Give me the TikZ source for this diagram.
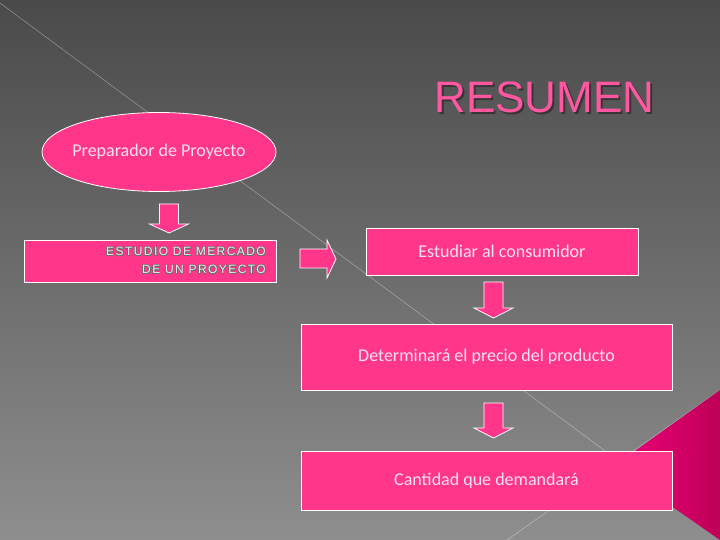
\documentclass[tikz,border=0pt]{standalone}
\usepackage{fontspec}
\setmainfont{Carlito}
\newfontfamily\titlefont{Liberation Sans}
\newfontfamily\capsfont[LetterSpace=12]{Liberation Sans}
\usepackage[copies]{contour}
\contourlength{0.45pt}
\usetikzlibrary{shapes.geometric}
\definecolor{bgtop}{RGB}{74,74,74}
\definecolor{bgbot}{RGB}{142,142,142}
\definecolor{boxpink}{RGB}{255,54,138}
\definecolor{boxtext}{RGB}{250,226,242}
\definecolor{titlepink}{RGB}{255,88,160}
\definecolor{titleshadow}{RGB}{58,52,56}
\definecolor{triL}{RGB}{240,0,122}
\definecolor{triR}{RGB}{190,0,88}
\definecolor{capsline}{RGB}{110,110,110}
\newcommand{\shadowtext}[1]{\makebox[0pt][l]{\hspace{2pt}\raisebox{-2pt}{\textcolor{titleshadow}{#1}}}\textcolor{titlepink}{#1}}
\tikzset{
  pinkbox/.style={draw=white, line width=0.8pt, fill=boxpink, text=boxtext,
    font=\fontsize{18}{21}\selectfont, inner sep=0pt},
  blockarrow/.style={draw=white, line width=0.8pt, fill=boxpink},
  diagline/.style={draw=white, opacity=0.35, line width=0.6pt}
}
\begin{document}
\begin{tikzpicture}[x=1pt,y=-1pt]
\useasboundingbox (0,0) rectangle (720,540);
% background
\shade[top color=bgtop, bottom color=bgbot] (0,0) rectangle (720,540);
\draw[diagline] (0,3) -- (720,536);
\draw[diagline] (720,390) -- (507,540);
% pink triangle
\shade[left color=triL, right color=triR] (720,390) -- (614,466) -- (720,540) -- cycle;
% title
\node (title) [font=\titlefont\fontsize{44}{48}\selectfont, inner sep=0pt] at (544.5,98)
  {\shadowtext{RESUMEN}};
% ellipse
\node (prep) [ellipse, draw=white, line width=0.8pt, fill=boxpink,
  minimum width=234pt, minimum height=79pt, inner sep=0pt] at (159,152) {};
\node (preptext) [text=boxtext, inner sep=0pt, font=\fontsize{18}{21}\selectfont]
  at (prep.center) {Preparador de Proyecto};
% down arrow 1
\draw[blockarrow] (159.5,204) -- (178.5,204) -- (178.5,224) -- (188.5,224) -- (169,233)
  -- (149.5,224) -- (159.5,224) -- cycle;
% estudio box
\node (estudio) [pinkbox, minimum width=252pt, minimum height=42pt] at (150,261) {};
\node (estudiotext) [anchor=east, align=right, inner sep=0pt, text=white!92!black,
  font=\capsfont\fontsize{12}{18}\selectfont] at (266,261)
  {\contour{capsline}{ESTUDIO DE MERCADO}\\\contour{capsline}{DE UN PROYECTO}};
% right arrow
\draw[blockarrow] (300,249) -- (327,249) -- (327,240) -- (336,259) -- (327,278)
  -- (327,268) -- (300,268) -- cycle;
% right column boxes
\node (consum) [pinkbox, minimum width=272pt, minimum height=47pt] at (502,251.5) {Estudiar al consumidor};
\draw[blockarrow] (484,282) -- (503,282) -- (503,308) -- (513,308) -- (493.5,318)
  -- (474,308) -- (484,308) -- cycle;
\node (precio) [pinkbox, minimum width=371pt, minimum height=66pt] at (486.5,357) {Determinará el precio del producto};
\draw[blockarrow] (484,403) -- (503,403) -- (503,428) -- (513,428) -- (493.5,438)
  -- (474,428) -- (484,428) -- cycle;
\node (cantidad) [pinkbox, minimum width=371pt, minimum height=59pt] at (486.5,480.5) {Cantidad que demandará};
\end{tikzpicture}
\end{document}
